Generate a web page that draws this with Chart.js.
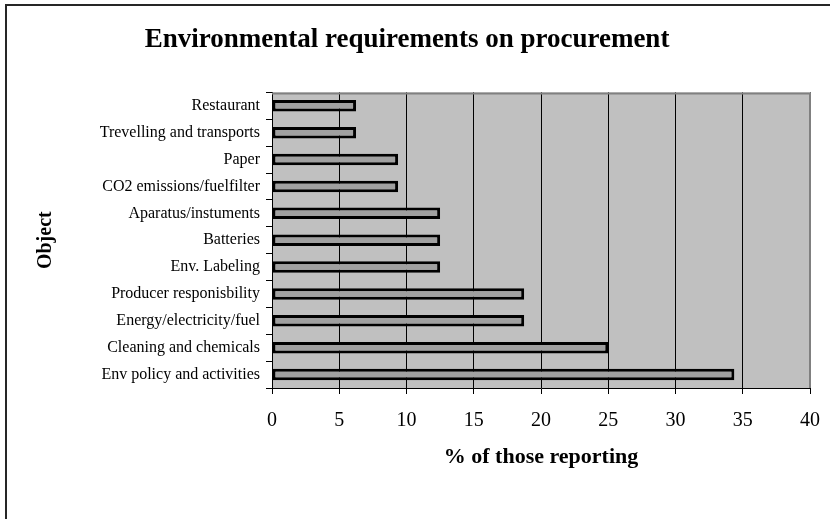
<!DOCTYPE html>
<html>
<head>
<meta charset="utf-8">
<script src="https://cdn.jsdelivr.net/npm/chart.js@4"></script>
<style>
  html, body { margin: 0; padding: 0; background: #fff; }
  #wrap { width: 835px; height: 519px; }
</style>
</head>
<body>
<div id="wrap"><canvas id="chart" width="835" height="519"></canvas></div>
<script>
// Data
const categories = [
    'Restaurant',
    'Trevelling and transports',
    'Paper',
    'CO2 emissions/fuelfilter',
    'Aparatus/instuments',
    'Batteries',
    'Env. Labeling',
    'Producer responisbility',
    'Energy/electricity/fuel',
    'Cleaning and chemicals',
    'Env policy and activities'
];
const percentReporting = [6.25, 6.25, 9.375, 9.375, 12.5, 12.5, 12.5, 18.75, 18.75, 25, 34.375];
const xTicks = [0, 5, 10, 15, 20, 25, 30, 35, 40];

const serif = '"Liberation Serif", "Times New Roman", serif';

// grey plot background + outer frame, like the old spreadsheet chart
const framePlugin = {
    id: 'frame',
    beforeDraw(chart) {
        const { ctx, chartArea: a } = chart;
        ctx.save();
        ctx.fillStyle = '#c0c0c0';
        ctx.fillRect(a.left, a.top, a.right - a.left, a.bottom - a.top);
        ctx.restore();
    },
    afterDraw(chart) {
        const { ctx, chartArea: a } = chart;
        ctx.save();
        // plot area top / right edge
        ctx.strokeStyle = '#808080';
        ctx.lineWidth = 2;
        ctx.beginPath();
        ctx.moveTo(a.left, a.top + 1);
        ctx.lineTo(a.right, a.top + 1);
        ctx.lineTo(a.right, a.bottom);
        ctx.stroke();
        // outer chart frame (left and top visible)
        ctx.strokeStyle = '#262626';
        ctx.beginPath();
        ctx.moveTo(6, 519);
        ctx.lineTo(6, 5);
        ctx.lineTo(830, 5);
        ctx.stroke();
        ctx.restore();
    }
};

new Chart(document.getElementById('chart'), {
    type: 'bar',
    data: {
        labels: categories,
        datasets: [{
            label: '% of those reporting',
            data: percentReporting,
            backgroundColor: '#a0a0a0',
            borderColor: '#000',
            borderWidth: 3,
            borderSkipped: false,
            categoryPercentage: 1,
            barPercentage: 0.43
        }]
    },
    options: {
        indexAxis: 'y',
        responsive: false,
        animation: false,
        layout: { padding: { left: 0, right: 21, top: 0, bottom: 0 } },
        plugins: {
            legend: { display: false },
            tooltip: { enabled: false },
            title: {
                display: true,
                text: 'Environmental requirements on procurement',
                color: '#000',
                font: { family: serif, size: 27, weight: 'bold' },
                padding: { top: 24, bottom: 36 }
            }
        },
        scales: {
            x: {
                min: 0,
                max: 40,
                afterBuildTicks(scale) {
                    scale.ticks = xTicks.map(v => ({ value: v }));
                },
                afterFit(scale) { scale.height = 131; },
                grid: { color: '#000', lineWidth: 1, tickLength: 6, tickColor: '#000' },
                border: { color: '#000', width: 1 },
                ticks: { color: '#000', font: { family: serif, size: 20 }, padding: 15 },
                title: {
                    display: true,
                    text: '% of those reporting',
                    color: '#000',
                    font: { family: serif, size: 22, weight: 'bold' },
                    padding: { top: 0, bottom: 48 }
                }
            },
            y: {
                afterFit(scale) { scale.width = 272; },
                grid: { drawOnChartArea: false, tickLength: 6, tickColor: '#000', offset: true },
                border: { color: '#000', width: 1 },
                ticks: { color: '#000', font: { family: serif, size: 16 }, padding: 6 },
                title: {
                    display: true,
                    text: 'Object',
                    color: '#000',
                    font: { family: serif, size: 20, weight: 'bold' },
                    padding: { top: 34, bottom: 0 }
                }
            }
        }
    },
    plugins: [framePlugin]
});
</script>
</body>
</html>
